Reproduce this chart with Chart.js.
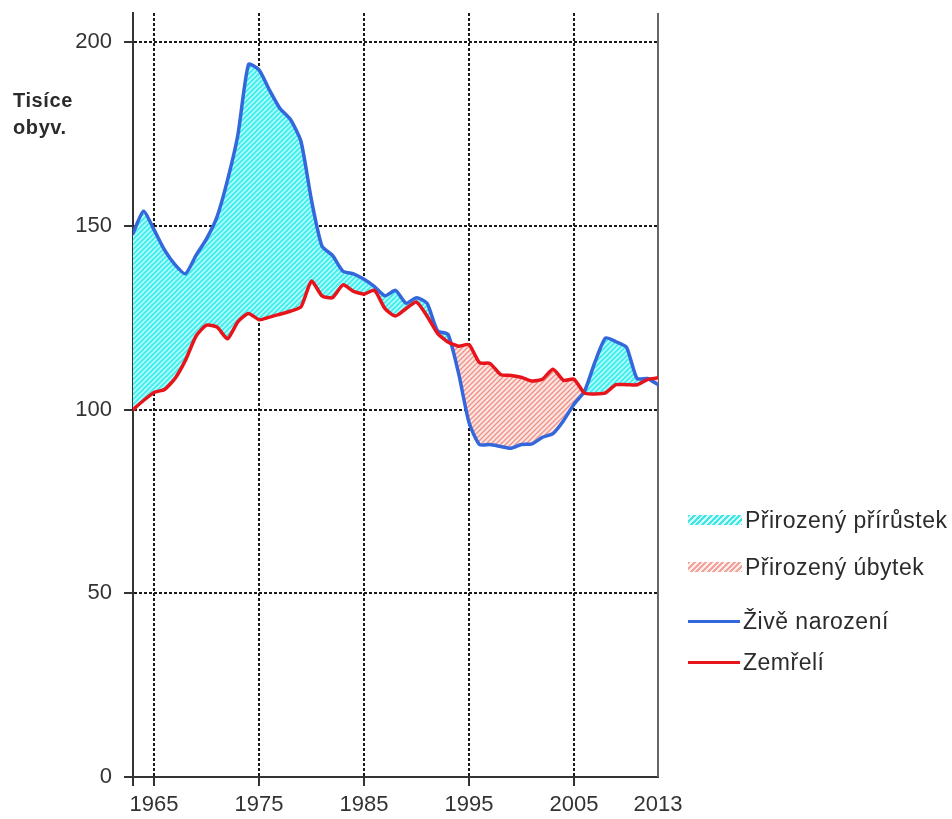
<!DOCTYPE html>
<html lang="cs">
<head>
<meta charset="utf-8">
<title>Živě narození a zemřelí</title>
<script src="https://cdn.jsdelivr.net/npm/chart.js@4.4.1/dist/chart.umd.min.js"></script>
<style>
  html, body { margin: 0; padding: 0; background: #fff; }
  #wrap { position: relative; width: 952px; height: 819px; background: #fff; overflow: hidden; }
  #chart { position: absolute; left: 0; top: 0; }
  .unit {
    position: absolute; left: 13px; top: 87px;
    font: bold 20px/27px 'Liberation Sans', Arial, sans-serif;
    letter-spacing: 0.6px; color: #2b2b2b;
  }
  .legend-row {
    position: absolute; left: 688px; height: 30px;
    display: flex; align-items: center;
    font: 23px 'Liberation Sans', Arial, sans-serif;
    letter-spacing: 0.5px; color: #2b2b2b; white-space: nowrap;
  }
  .sw { width: 54px; height: 10px; margin-right: 3px; flex: none; }
  .sw.grow { background: repeating-linear-gradient(135deg, #3fe6e6 0 2px, #d8ffff 2px 4px); }
  .sw.loss { background: repeating-linear-gradient(135deg, #f2a49c 0 2px, #fff0ee 2px 4px); }
  .ln { width: 52px; height: 3px; margin-right: 3px; flex: none; }
</style>
</head>
<body>
<div id="wrap">
  <canvas id="chart" width="952" height="819"></canvas>
  <div class="unit">Tisíce<br>obyv.</div>
  <div class="legend-row" style="top:505px"><span class="sw grow"></span>Přirozený přírůstek</div>
  <div class="legend-row" style="top:552px"><span class="sw loss"></span>Přirozený úbytek</div>
  <div class="legend-row" style="top:606px"><span class="ln" style="background:#3467dc"></span>Živě narození</div>
  <div class="legend-row" style="top:647px"><span class="ln" style="background:#e8141c"></span>Zemřelí</div>
</div>
<script>
// Roky 1963–2013
const years = [
  1963, 1964, 1965, 1966, 1967, 1968, 1969, 1970, 1971, 1972,
  1973, 1974, 1975, 1976, 1977, 1978, 1979, 1980, 1981, 1982,
  1983, 1984, 1985, 1986, 1987, 1988, 1989, 1990, 1991, 1992,
  1993, 1994, 1995, 1996, 1997, 1998, 1999, 2000, 2001, 2002,
  2003, 2004, 2005, 2006, 2007, 2008, 2009, 2010, 2011, 2012,
  2013
];

// Živě narození (tis.)
const births = [
  148, 154, 149, 143.5, 139.5, 137, 142, 146.5, 152.5, 162.5,
  175, 194, 192.5, 187, 182, 179, 173, 157, 144.5, 142,
  137.7, 137, 135.5, 133.5, 131, 132.5, 129, 130.5, 129, 121.5,
  120.5, 110, 96.5, 90.5, 90.5, 90, 89.5, 90.5, 90.7, 92.5,
  93.5, 97, 101.5, 105, 113, 119.5, 118.5, 117, 108.5, 108.5,
  106.8
];

// Zemřelí (tis.)
const deaths = [
  100, 102.5, 104.7, 105.5, 108.5, 113.5, 120, 123, 122.5, 119.3,
  124, 126.2, 124.5, 125.2, 126, 126.8, 128, 135, 131, 130.5,
  134, 132.2, 131.5, 132.5, 127.5, 125.5, 127.5, 129.3, 125.5, 120.8,
  118.4, 117.3, 117.7, 112.8, 112.6, 109.6, 109.3, 108.8, 107.8, 108.3,
  111, 108, 108.3, 104.5, 104.3, 104.6, 106.8, 106.8, 106.8, 108.2,
  108.7
];

// Popisky os
const xTicks = [1963, 1965, 1975, 1985, 1995, 2005, 2013];
const xTickLabels = ['', '1965', '1975', '1985', '1995', '2005', '2013'];
const yTicks = [0, 50, 100, 150, 200];

const FONT = "'Liberation Sans', Arial, sans-serif";
const INK = '#333';

// Šrafované výplně
function hatch(base, stroke) {
  const s = 5;
  const c = document.createElement('canvas');
  c.width = s; c.height = s;
  const g = c.getContext('2d');
  g.fillStyle = base;
  g.fillRect(0, 0, s, s);
  g.strokeStyle = stroke;
  g.lineWidth = 1.3;
  g.beginPath();
  g.moveTo(-1, 1); g.lineTo(1, -1);
  g.moveTo(0, s); g.lineTo(s, 0);
  g.moveTo(s - 1, s + 1); g.lineTo(s + 1, s - 1);
  g.stroke();
  return g.createPattern(c, 'repeat');
}
const growthFill = hatch('#45eeee', '#c8ffff');
const lossFill = hatch('#fde6e2', '#ef8f86');

// Pravý okraj grafu
const frame = {
  id: 'frame',
  beforeDatasetsDraw(chart) {
    const { ctx, chartArea: a } = chart;
    ctx.save();
    ctx.strokeStyle = '#666';
    ctx.lineWidth = 2;
    ctx.beginPath();
    ctx.moveTo(a.right, a.top);
    ctx.lineTo(a.right, a.bottom);
    ctx.stroke();
    ctx.restore();
  }
};

const points = arr => years.map((y, i) => ({ x: y, y: arr[i] }));

new Chart(document.getElementById('chart'), {
  type: 'line',
  data: {
    datasets: [
      {
        label: 'Zemřelí',
        data: points(deaths),
        borderColor: '#e8141c',
        borderWidth: 3.5,
        fill: false
      },
      {
        label: 'Živě narození',
        data: points(births),
        borderColor: '#3467dc',
        borderWidth: 3.5,
        fill: { target: 0, above: growthFill, below: lossFill }
      }
    ]
  },
  options: {
    responsive: false,
    animation: false,
    layout: { padding: { top: 13, right: 294, left: 0, bottom: 0 } },
    plugins: { legend: { display: false }, tooltip: { enabled: false } },
    elements: {
      point: { radius: 0 },
      line: { tension: 0.2, borderJoinStyle: 'round', borderCapStyle: 'round' }
    },
    scales: {
      x: {
        type: 'linear',
        min: 1963,
        max: 2013,
        afterBuildTicks: s => { s.ticks = xTicks.map(v => ({ value: v })); },
        afterFit: s => { s.height = 42; s.paddingLeft = 0; },
        ticks: {
          autoSkip: false, maxRotation: 0, padding: 6,
          color: INK, font: { family: FONT, size: 22 },
          callback: (v, i) => xTickLabels[i]
        },
        grid: {
          color: c => (c.tick && (c.tick.value === 1963 || c.tick.value === 2013)) ? 'rgba(0,0,0,0)' : '#1a1a1a',
          lineWidth: 2,
          tickLength: 9,
          tickWidth: 2,
          tickColor: c => (c.tick && c.tick.value === 2013) ? 'rgba(0,0,0,0)' : INK
        },
        border: { color: INK, width: 2, dash: [3, 2] }
      },
      y: {
        min: 0,
        max: 208,
        afterBuildTicks: s => { s.ticks = yTicks.map(v => ({ value: v })); },
        afterFit: s => { s.width = 133; s.paddingTop = 0; s.paddingBottom = 0; },
        ticks: {
          padding: 12,
          color: INK, font: { family: FONT, size: 22 },
          callback: v => String(v)
        },
        grid: {
          color: c => (c.tick && c.tick.value === 0) ? 'rgba(0,0,0,0)' : '#1a1a1a',
          lineWidth: 2,
          tickLength: 9,
          tickWidth: 2,
          tickColor: INK
        },
        border: { color: INK, width: 2, dash: [3, 2] }
      }
    }
  },
  plugins: [frame]
});
</script>
</body>
</html>
